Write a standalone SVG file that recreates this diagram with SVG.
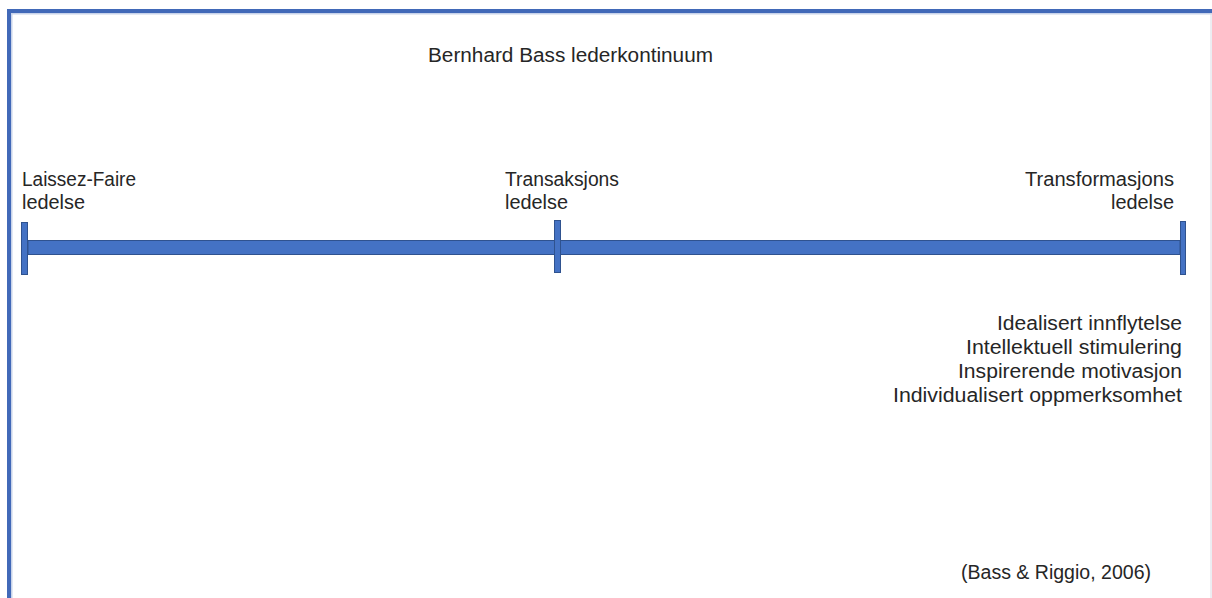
<svg xmlns="http://www.w3.org/2000/svg" width="1212" height="598" viewBox="0 0 1212 598">
  <style>
    .t { font-family: "Liberation Sans", Arial, sans-serif; font-size: 20px; fill: #262626; }
    .end { text-anchor: end; }
    .bar { fill: #4472C4; stroke: #2F528F; stroke-width: 1; }
  </style>

  <!-- frame -->
  <rect x="0" y="0" width="1212" height="598" fill="#ffffff"/>
  <rect x="7" y="9" width="1205" height="4" fill="#4169B8"/>
  <rect x="7" y="9" width="4" height="589" fill="#4169B8"/>
  <rect x="11" y="13" width="1201" height="1.5" fill="#C8D3EA"/>
  <rect x="11" y="13" width="1.5" height="585" fill="#C8D3EA"/>
  <line x1="1211" y1="13" x2="1211" y2="598" stroke="#DADBE4" stroke-width="1"/>

  <g id="title">
    <text class="t" x="428" y="62" textLength="285" lengthAdjust="spacingAndGlyphs">Bernhard Bass lederkontinuum</text>
  </g>

  <!-- continuum axis -->
  <g id="axis">
    <rect class="bar" x="28" y="240.5" width="1152" height="14"/>
    <rect class="bar" x="21.5" y="222.5" width="6" height="52"/>
    <rect class="bar" x="554.5" y="220.5" width="6" height="52"/>
    <rect class="bar" x="1180.5" y="221.5" width="5" height="53"/>
  </g>

  <g id="laissez-faire">
    <text class="t" x="22" y="186" textLength="114" lengthAdjust="spacingAndGlyphs">Laissez-Faire</text>
    <text class="t" x="22" y="209" textLength="63" lengthAdjust="spacingAndGlyphs">ledelse</text>
  </g>

  <g id="transaksjons">
    <text class="t" x="505" y="186" textLength="114" lengthAdjust="spacingAndGlyphs">Transaksjons</text>
    <text class="t" x="505" y="209" textLength="63" lengthAdjust="spacingAndGlyphs">ledelse</text>
  </g>

  <g id="transformasjons">
    <text class="t end" x="1174" y="186" textLength="149" lengthAdjust="spacingAndGlyphs">Transformasjons</text>
    <text class="t end" x="1174" y="209" textLength="63" lengthAdjust="spacingAndGlyphs">ledelse</text>
  </g>

  <g id="faktorer">
    <text class="t end" x="1182" y="330" textLength="185" lengthAdjust="spacingAndGlyphs">Idealisert innflytelse</text>
    <text class="t end" x="1182" y="354" textLength="216" lengthAdjust="spacingAndGlyphs">Intellektuell stimulering</text>
    <text class="t end" x="1182" y="378" textLength="224" lengthAdjust="spacingAndGlyphs">Inspirerende motivasjon</text>
    <text class="t end" x="1182" y="402" textLength="289" lengthAdjust="spacingAndGlyphs">Individualisert oppmerksomhet</text>
  </g>

  <g id="kilde">
    <text class="t" x="961" y="579" textLength="190" lengthAdjust="spacingAndGlyphs">(Bass &amp; Riggio, 2006)</text>
  </g>
</svg>
